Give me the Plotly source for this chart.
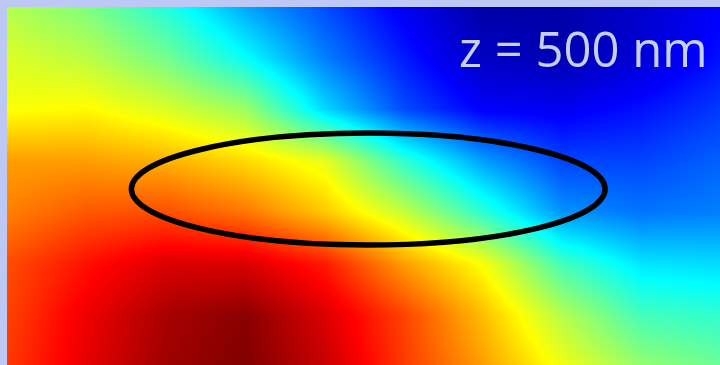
import plotly.graph_objects as go

# Sample positions of the field map (nm)
x_nm = [-900, -700, -500, -300, -100, 100, 300, 500, 700, 900]
y_nm = [700, 500, 300, 100, -100, -300, -500, -700]

# Normalised field amplitude on the sample grid (rows top to bottom)
field = [
    [0.55, 0.50, 0.41, 0.29, 0.20, 0.11, 0.03, 0.03, 0.07, 0.12],
    [0.59, 0.56, 0.49, 0.38, 0.25, 0.15, 0.06, 0.04, 0.08, 0.14],
    [0.62, 0.63, 0.59, 0.53, 0.34, 0.20, 0.12, 0.11, 0.14, 0.18],
    [0.72, 0.72, 0.70, 0.66, 0.60, 0.42, 0.28, 0.19, 0.19, 0.22],
    [0.75, 0.79, 0.80, 0.76, 0.68, 0.57, 0.42, 0.27, 0.24, 0.25],
    [0.80, 0.86, 0.91, 0.91, 0.85, 0.72, 0.62, 0.44, 0.35, 0.34],
    [0.81, 0.89, 0.96, 0.99, 0.91, 0.81, 0.69, 0.55, 0.44, 0.42],
    [0.82, 0.90, 0.97, 1.00, 0.93, 0.82, 0.72, 0.61, 0.52, 0.48],
]

# Particle outline (nm)
ellipse_center = (12, -12)
ellipse_semi_axes = (598, 219)

label = "z = 500 nm"

jet = [
    [0.0, "rgb(0,0,140)"],
    [0.125, "rgb(0,0,255)"],
    [0.375, "rgb(0,255,255)"],
    [0.625, "rgb(255,255,0)"],
    [0.875, "rgb(255,0,0)"],
    [1.0, "rgb(128,0,0)"],
]

frame_color = "#BEC8F4"

fig = go.Figure(
    go.Heatmap(
        x=x_nm,
        y=y_nm,
        z=field,
        zmin=0,
        zmax=1,
        colorscale=jet,
        zsmooth="best",
        showscale=False,
        hoverinfo="skip",
    )
)

cx, cy = ellipse_center
a, b = ellipse_semi_axes
fig.add_shape(
    type="circle",
    xref="x",
    yref="y",
    x0=cx - a,
    x1=cx + a,
    y0=cy - b,
    y1=cy + b,
    line=dict(color="black", width=5.5),
)

fig.add_annotation(
    text=label,
    xref="paper",
    yref="paper",
    x=0.986,
    y=0.885,
    xanchor="right",
    yanchor="middle",
    showarrow=False,
    font=dict(family="Open Sans", size=49, color="#C6D0F7"),
)

fig.update_layout(
    width=720,
    height=365,
    margin=dict(l=7, r=0, t=7, b=0),
    paper_bgcolor=frame_color,
    plot_bgcolor=frame_color,
    xaxis=dict(range=[x_nm[0], x_nm[-1]], visible=False),
    yaxis=dict(range=[y_nm[-1], y_nm[0]], visible=False),
    showlegend=False,
)

fig.write_html("out.html", config={"displayModeBar": False})
